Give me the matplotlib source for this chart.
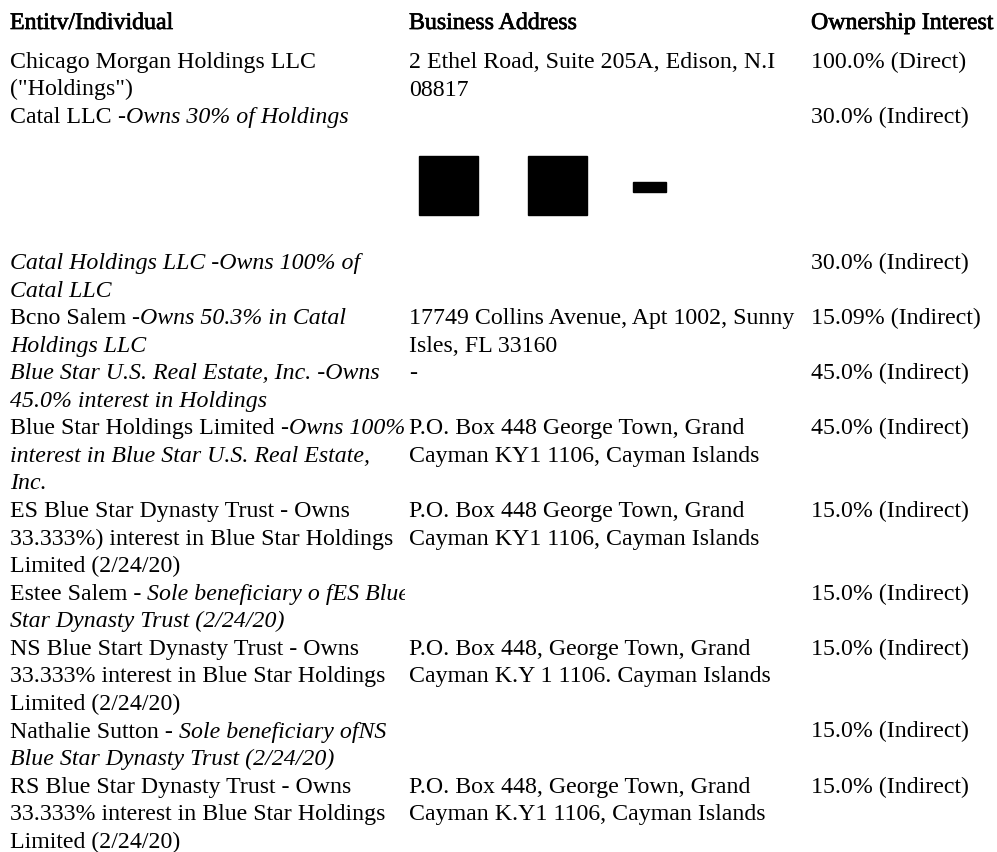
import matplotlib
matplotlib.use("Agg")
import matplotlib.pyplot as plt
from matplotlib.patches import Rectangle
from matplotlib.transforms import Bbox, TransformedBbox
import matplotlib.patheffects as pe

# text in *...* is italic
headers = ["Entitv/Individual", "Business Address", "Ownership Interest"]

top_rows = [
    (["Chicago Morgan Holdings LLC", '("Holdings")'],
     ["2 Ethel Road, Suite 205A, Edison, N.I", "08817"],
     "100.0% (Direct)"),
    (["Catal LLC *-Owns 30% of Holdings*"], [], "30.0% (Indirect)"),
]

bottom_rows = [
    (["*Catal Holdings LLC -Owns 100% of*", "*Catal LLC*"], [], "30.0% (Indirect)"),
    (["Bcno Salem *-Owns 50.3% in Catal*", "*Holdings LLC*"],
     ["17749 Collins Avenue, Apt 1002, Sunny", "Isles, FL 33160"],
     "15.09% (Indirect)"),
    (["*Blue Star U.S. Real Estate, Inc. -Owns*", "*45.0% interest in Holdings*"],
     ["-"], "45.0% (Indirect)"),
    (["Blue Star Holdings Limited *-Owns 100%*",
      "*interest in Blue Star U.S. Real Estate,*", "*Inc.*"],
     ["P.O. Box 448 George Town, Grand", "Cayman KY1 1106, Cayman Islands"],
     "45.0% (Indirect)"),
    (["ES Blue Star Dynasty Trust - Owns",
      "33.333%) interest in Blue Star Holdings", "Limited (2/24/20)"],
     ["P.O. Box 448 George Town, Grand", "Cayman KY1 1106, Cayman Islands"],
     "15.0% (Indirect)"),
    (["Estee Salem - *Sole beneficiary o fES Blue*", "*Star Dynasty Trust (2/24/20)*"],
     [], "15.0% (Indirect)"),
    (["NS Blue Start Dynasty Trust - Owns",
      "33.333% interest in Blue Star Holdings", "Limited (2/24/20)"],
     ["P.O. Box 448, George Town, Grand", "Cayman K.Y 1 1106. Cayman Islands"],
     "15.0% (Indirect)"),
    (["Nathalie Sutton - *Sole beneficiary ofNS*", "*Blue Star Dynasty Trust (2/24/20)*"],
     [], "15.0% (Indirect)"),
    (["RS Blue Star Dynasty Trust - Owns",
      "33.333% interest in Blue Star Holdings", "Limited (2/24/20)"],
     ["P.O. Box 448, George Town, Grand", "Cayman K.Y1 1106, Cayman Islands"],
     "15.0% (Indirect)"),
]

W, H = 997, 852
fig = plt.figure(figsize=(W / 100, H / 100), dpi=100)
ax = fig.add_axes([0, 0, 1, 1])
ax.set_xlim(0, W)
ax.set_ylim(H, 0)
ax.axis("off")

FONT = "Liberation Serif"
FS = 17.2
col_x = [10, 409, 811]
renderer = fig.canvas.get_renderer()
clip = TransformedBbox(Bbox([[0, 0], [col_x[1] - 4, H]]), ax.transData)


def width(s, style):
    t = ax.text(0, 0, s, family=FONT, size=FS, style=style)
    w = t.get_window_extent(renderer).width
    t.remove()
    return w


def draw_line(x, y, markup, **kw):
    parts = markup.split("*")
    for i, p in enumerate(parts):
        if not p:
            continue
        style = "italic" if i % 2 else "normal"
        t = ax.text(x, y, p, family=FONT, size=FS, style=style,
                    va="baseline", ha="left", color="black", **kw)
        if kw.get("clip_on"):
            t.set_clip_box(clip)
        x += width(p + "|", style) - width("|", style)


for hx, h in zip(col_x, headers):
    ax.text(hx, 29, h, family=FONT, size=FS, va="baseline", ha="left",
            path_effects=[pe.withStroke(linewidth=0.5, foreground="black")])


def draw_block(rows, y0, step):
    k = 0
    for ent, addr, share in rows:
        y = y0 + k * step
        for j, line in enumerate(ent):
            draw_line(col_x[0], y + j * step, line, clip_on=True)
        for j, line in enumerate(addr):
            draw_line(col_x[1], y + j * step, line)
        draw_line(col_x[2], y, share)
        k += max(len(ent), len(addr), 1)


draw_block(top_rows, 68, 27.5)
draw_block(bottom_rows, 269, 27.56)

# redaction marks
ax.add_patch(Rectangle((419, 156), 59, 59, color="black"))
ax.add_patch(Rectangle((528, 156), 59, 59, color="black"))
ax.add_patch(Rectangle((633, 182), 33, 10, color="black"))

fig.savefig("out.png", dpi=100)
